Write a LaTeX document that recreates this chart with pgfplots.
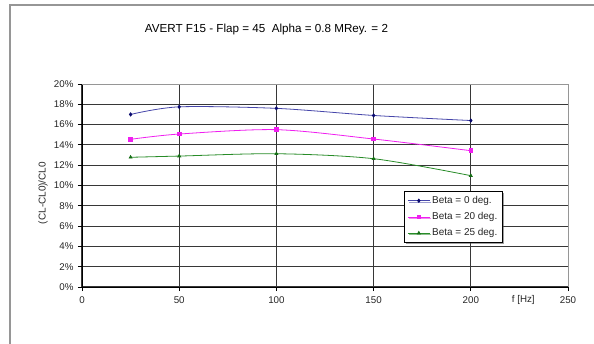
\documentclass[border=0pt]{standalone}
\usepackage{pgfplots}
\pgfplotsset{compat=1.18}
\usepackage{fontspec}
\setmainfont{Liberation Sans}
\usetikzlibrary{shadows}
\definecolor{serA}{RGB}{70,70,170}
\definecolor{serAm}{RGB}{10,10,110}
\definecolor{serB}{RGB}{240,30,240}
\definecolor{serC}{RGB}{40,140,40}
\definecolor{serCm}{RGB}{20,110,20}
\definecolor{gridc}{RGB}{55,55,55}
\definecolor{framec}{RGB}{150,150,150}

\pgfplotstableread{
f v
25 17.0
50 17.75
100 17.6
150 16.9
200 16.4
}\betazero
\pgfplotstableread{
f v
25 14.55
50 15.07
100 15.5
150 14.58
200 13.43
}\betatwenty
\pgfplotstableread{
f v
25 12.78
50 12.9
100 13.13
150 12.64
200 10.97
}\betatwentyfive

\begin{document}
\begin{tikzpicture}
\useasboundingbox (0bp,0bp) rectangle (594bp,344bp);
\fill[white] (0bp,0bp) rectangle (594bp,344bp);
\draw[framec, line width=2bp] (10bp,-5bp) -- (10bp,339bp) -- (600bp,339bp);
\node[anchor=base, font=\fontsize{11.7}{13}\selectfont] at (266.5bp,311.7bp) {AVERT F15 - Flap = 45\ \ Alpha = 0.8 MRey. = 2};
\begin{axis}[
  at={(82bp,57bp)}, anchor=south west,
  width=486bp, height=203bp, scale only axis,
  xmin=0, xmax=250, ymin=0, ymax=20,
  axis x line*=bottom, axis y line*=left,
  axis line style={black, line width=0.9bp},
  xtick={0,50,100,150,200}, extra x ticks={250},
  ytick={0,2,...,18}, extra y ticks={20},
  extra x tick style={grid style={framec, line width=0.8bp}},
  extra y tick style={grid style={framec, line width=0.8bp}},
  grid=major,
  grid style={gridc, line width=1.1bp},
  tick align=outside,
  major tick length=4bp,
  tick style={black, line width=0.8bp},
  /pgf/number format/assume math mode=true,
  ticklabel style={font=\fontsize{9.8}{11}\selectfont, text=black!85},
  yticklabel={\pgfmathprintnumber{\tick}\%},
  yticklabel style={xshift=-1bp},
  xticklabel style={yshift=-2bp},
  xlabel={f [Hz]},
  xlabel style={at={(axis cs:227,0)}, anchor=north, yshift=-5bp, font=\fontsize{9.8}{11}\selectfont, text=black!85},
  ylabel={(CL-CL0)/CL0},
  ylabel style={at={(axis description cs:-0.0802,0.463)}, anchor=center, font=\fontsize{10}{11}\selectfont, text=black!85},
  legend style={at={(axis description cs:0.6626,0.473)}, anchor=north west,
    draw=black, fill=white, line width=0.8bp,
    drop shadow={shadow xshift=1.5bp, shadow yshift=-1.5bp, fill=black!75},
    font=\fontsize{10}{12}\selectfont, text=black!85,
    inner xsep=3bp, inner ysep=3bp, row sep=3.5bp},
  legend cell align=left,
  legend image code/.code={\draw[mark repeat=2, mark phase=2] plot coordinates {(0bp,0bp) (11bp,0bp) (22bp,0bp)};},
]
\addplot[serA, line width=0.8bp, smooth, mark=diamond*, mark size=1.6bp, mark options={serAm, fill=serAm}] table[x=f,y=v] {\betazero};
\addlegendentry{Beta = 0 deg.}
\addplot[serB, line width=0.8bp, smooth, mark=square*, mark size=1.8bp, mark options={serB, fill=serB}] table[x=f,y=v] {\betatwenty};
\addlegendentry{Beta = 20 deg.}
\addplot[serC, line width=0.8bp, smooth, mark=triangle*, mark size=1.6bp, mark options={serCm, fill=serCm}] table[x=f,y=v] {\betatwentyfive};
\addlegendentry{Beta = 25 deg.}
\end{axis}
\end{tikzpicture}
\end{document}
